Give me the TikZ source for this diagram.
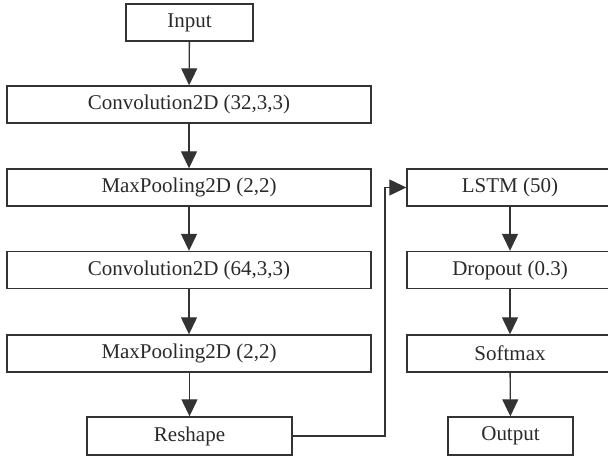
\documentclass[tikz,border=0pt]{standalone}
\usepackage{fontspec}
\setmainfont{Liberation Serif}
\usetikzlibrary{arrows.meta}
\definecolor{ln}{HTML}{333333}
\definecolor{tx}{HTML}{2A2A2A}
\tikzset{
  blk/.style={draw=ln, line width=1.4pt, inner sep=0pt, minimum height=37pt, text=tx, font=\fontsize{21}{23}\selectfont},
  wide/.style={blk, minimum width=364pt},
  rcol/.style={blk, minimum width=206pt},
  conn/.style={draw=ln, line width=1.3pt, -{Triangle[length=17pt,width=16pt]}}
}
\begin{document}
\begin{tikzpicture}[x=1pt,y=-1pt]
\useasboundingbox (0,0) rectangle (608,458);
\node[blk, minimum width=127pt] (in) at (189.5,22.5) {Input};
\node[wide] (c1) at (189,104.5) {Convolution2D (32,3,3)};
\node[wide] (m1) at (189,187.5) {MaxPooling2D (2,2)};
\node[wide] (c2) at (189,270) {Convolution2D (64,3,3)};
\node[wide] (m2) at (189,353.5) {MaxPooling2D (2,2)};
\node[blk, minimum width=205pt, minimum height=38pt] (rs) at (189.5,436) {Reshape};
\node[rcol] (ls) at (510,187.5) {LSTM (50)};
\node[rcol] (dr) at (510,270) {Dropout (0.3)};
\node[rcol] (sm) at (510,353.5) {Softmax};
\node[blk, minimum width=125pt, minimum height=38pt] (out) at (510.5,436) {Output};
\coordinate (k1) at (385,436);
\coordinate (k2) at (385,187.5);
\draw[conn] (in) -- (c1);
\draw[conn] (c1) -- (m1);
\draw[conn] (m1) -- (c2);
\draw[conn] (c2) -- (m2);
\draw[conn] (m2.south -| rs.north) -- (rs);
\draw[conn] (rs.east) -- (k1) -- (k2) -- (ls.west);
\draw[conn] (ls) -- (dr);
\draw[conn] (dr) -- (sm);
\draw[conn] (sm) -- (out);
\end{tikzpicture}
\end{document}
